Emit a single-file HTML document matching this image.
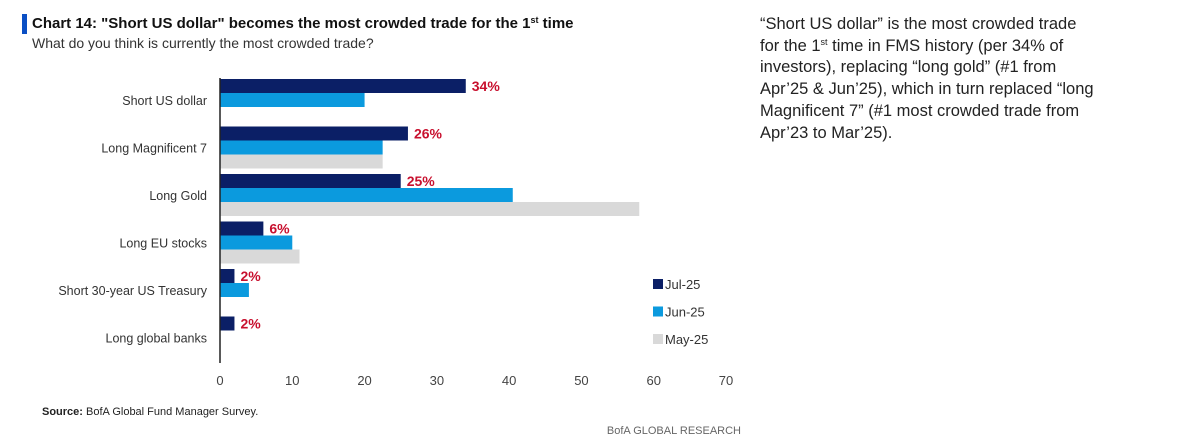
<!DOCTYPE html>
<html><head><meta charset="utf-8"><style>
body{margin:0;background:#fff;width:1192px;height:438px;overflow:hidden;font-family:"Liberation Sans",sans-serif;}
svg{position:absolute;left:0;top:0}
.note{position:absolute;left:760px;top:14px;white-space:nowrap;font-family:"Liberation Sans",sans-serif;font-size:16.5px;line-height:21.7px;color:#222;}
.note sup{font-size:9px;line-height:0;vertical-align:6px}
</style></head><body>
<svg width="1192" height="438">
<rect x="22" y="14" width="5" height="20" fill="#0a4fc4"/>
<text x="32" y="28" font-size="15" font-weight="bold" fill="#111">Chart 14: "Short US dollar" becomes the most crowded trade for the 1<tspan font-size="9" dy="-5">st</tspan><tspan dy="5"> time</tspan></text>
<text x="32" y="48" font-size="14" fill="#333">What do you think is currently the most crowded trade?</text>
<g id="plot"></g>
<text x="42" y="415" font-size="11" fill="#222"><tspan font-weight="bold">Source:</tspan> BofA Global Fund Manager Survey.</text>
<text x="741" y="434" font-size="11" fill="#666" text-anchor="end">BofA GLOBAL RESEARCH</text>
</svg>
<div class="note">“Short US dollar” is the most crowded trade<br>for the 1<sup>st</sup> time in FMS history (per 34% of<br>investors), replacing “long gold” (#1 from<br>Apr’25 &amp; Jun’25), which in turn replaced “long<br>Magnificent 7” (#1 most crowded trade from<br>Apr’23 to Mar’25).</div>
<script>
const categories=["Short US dollar","Long Magnificent 7","Long Gold","Long EU stocks","Short 30-year US Treasury","Long global banks"];
const jul25=[34,26,25,6,2,2];
const jun25=[20,22.5,40.5,10,4,0];
const may25=[0,22.5,58,11,0,0];
const ticks=[0,10,20,30,40,50,60,70];
const seriesNames=["Jul-25","Jun-25","May-25"];
const colors=["#0b1f66","#0b9ade","#d9d9d9"];
const NS="http://www.w3.org/2000/svg";
const g=document.getElementById('plot');
const x0=220,x1=726,xmax=70,yTop=78,rowH=47.5,barH=14;
const xs=v=>x0+(x1-x0)*v/xmax;
function mk(t,a){const e=document.createElementNS(NS,t);for(const k in a)e.setAttribute(k,a[k]);g.appendChild(e);return e;}
const series=[jul25,jun25,may25];
categories.forEach((c,i)=>{
 const y=yTop+i*rowH+1;
 const t=mk('text',{x:207,y:y+barH*1.5+5,'font-size':12.5,fill:'#333','text-anchor':'end'});
 t.textContent=c;
 
 
 series.forEach((s,j)=>{
  if(s[i]<=0)return;
  const r=mk('rect',{x:x0,y:y+j*barH,width:xs(s[i])-x0,height:barH,fill:colors[j]});
  
  
 });
 const l=mk('text',{x:xs(jul25[i])+6,y:y+12,'font-size':14,'font-weight':'bold',fill:'#c8102e'});
 l.textContent=jul25[i]+'%';
 
 
});
const ax=mk('line',{x1:x0,x2:x0,y1:yTop,y2:yTop+rowH*6,stroke:'#222','stroke-width':1.5});


ticks.forEach(v=>{
 const t=mk('text',{x:xs(v),y:385,'font-size':13,fill:'#444','text-anchor':'middle'});
 t.textContent=v;
 
 
});
seriesNames.forEach((n,j)=>{
 const y=284+j*27.5;
 const r=mk('rect',{x:653,y:y-5,width:10,height:10,fill:colors[j]});
 
 
 const t=mk('text',{x:665,y:y+5,'font-size':13,fill:'#333'});
 t.textContent=n;
 
 
});
</script>
</body></html>
